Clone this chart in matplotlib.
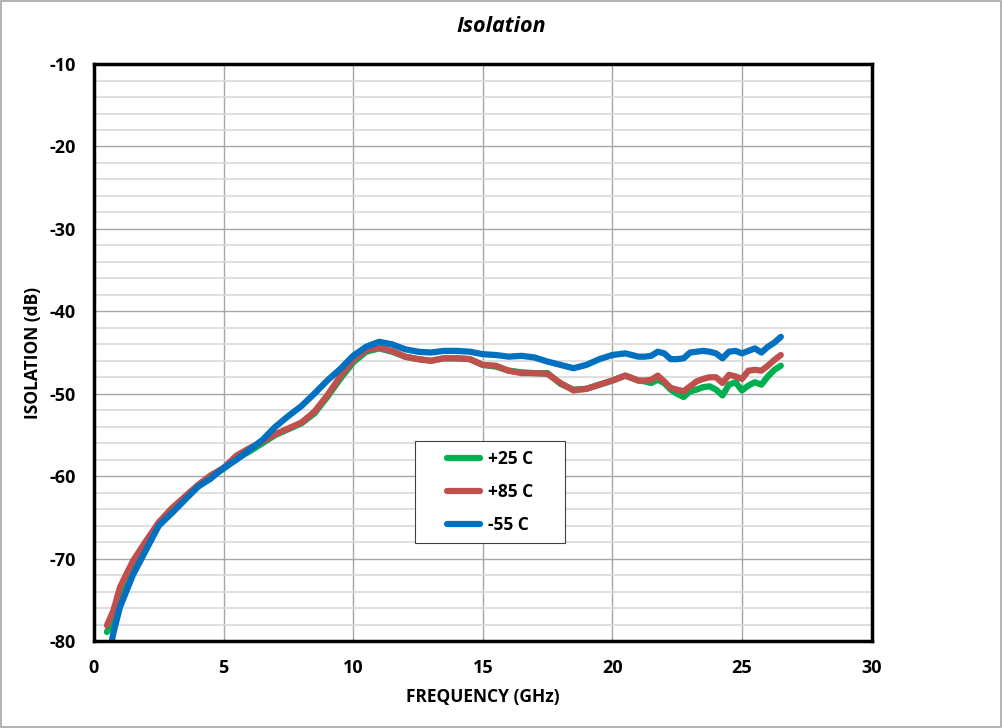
import matplotlib
matplotlib.use('Agg')
import matplotlib.pyplot as plt
from matplotlib.patches import Rectangle

plt.rcParams['font.family'] = ['Open Sans', 'DejaVu Sans']
plt.rcParams['axes.unicode_minus'] = False

# Frequency points (GHz)
freq = [0.5, 0.75, 1.0, 1.5, 2.0, 2.5, 3.0, 3.5, 4.0, 4.5, 5.0, 5.5, 6.0, 6.5,
        7.0, 7.5, 8.0, 8.5, 9.0, 9.5, 10.0, 10.5, 11.0, 11.5, 12.0, 12.5, 13.0,
        13.5, 14.0, 14.5, 15.0, 15.5, 16.0, 16.5, 17.0, 17.5, 18.0, 18.5, 19.0,
        19.5, 20.0, 20.5, 21.0, 21.25, 21.5, 21.75, 22.0, 22.25, 22.5, 22.75,
        23.0, 23.25, 23.5, 23.75, 24.0, 24.25, 24.5, 24.75, 25.0, 25.25, 25.5,
        25.75, 26.0, 26.25, 26.5]

iso_25 = [-78.9, -77.2, -74.5, -71.0, -68.3, -66.0, -64.2, -62.8, -61.3, -60.1,
          -59.1, -57.9, -57.0, -56.0, -55.0, -54.3, -53.6, -52.4, -50.4, -48.2,
          -46.2, -44.9, -44.5, -44.9, -45.5, -45.8, -46.0, -45.7, -45.7, -45.8,
          -46.5, -46.7, -47.2, -47.4, -47.5, -47.5, -48.8, -49.5, -49.4, -48.9,
          -48.4, -47.8, -48.4, -48.5, -48.7, -48.3, -48.7, -49.5, -50.0, -50.4,
          -49.7, -49.5, -49.2, -49.1, -49.5, -50.2, -48.9, -48.6, -49.6, -49.0,
          -48.6, -48.9, -47.9, -47.1, -46.6]

iso_85 = [-78.1, -76.3, -73.5, -70.3, -67.9, -65.6, -63.9, -62.5, -61.1, -59.9,
          -59.0, -57.5, -56.6, -55.8, -54.9, -54.2, -53.5, -52.2, -50.2, -47.9,
          -45.9, -44.7, -44.4, -44.8, -45.5, -45.8, -46.0, -45.7, -45.7, -45.8,
          -46.5, -46.6, -47.2, -47.5, -47.5, -47.6, -48.7, -49.6, -49.4, -48.9,
          -48.4, -47.8, -48.4, -48.4, -48.3, -47.8, -48.5, -49.3, -49.5, -49.7,
          -49.1, -48.5, -48.2, -48.0, -48.0, -48.7, -47.7, -47.9, -48.2, -47.2,
          -47.1, -47.2, -46.6, -45.9, -45.3]

iso_m55 = [-83.0, -79.0, -75.9, -72.0, -69.0, -66.0, -64.5, -62.9, -61.3, -60.3,
           -59.0, -58.0, -56.8, -55.6, -54.0, -52.7, -51.5, -50.0, -48.4, -47.0,
           -45.4, -44.3, -43.7, -44.0, -44.6, -44.9, -45.0, -44.8, -44.8, -44.9,
           -45.2, -45.3, -45.5, -45.4, -45.6, -46.1, -46.5, -46.9, -46.5, -45.8,
           -45.3, -45.1, -45.5, -45.5, -45.4, -44.9, -45.1, -45.8, -45.8, -45.7,
           -45.0, -44.9, -44.8, -44.9, -45.1, -45.7, -44.9, -44.8, -45.1, -44.8,
           -44.5, -45.0, -44.3, -43.8, -43.1]

fig = plt.figure(figsize=(10.02, 7.28), dpi=100)
ax = fig.add_axes([0.0938, 0.1195, 0.776, 0.7925])

# outer chart border
fig.patches.append(Rectangle((0.001, 0.001), 0.998, 0.998, transform=fig.transFigure,
                             fill=False, edgecolor='#a6a6a6', linewidth=1.2))

ax.plot(freq, iso_25, color='#00B050', linewidth=4.5, label='+25 C', solid_capstyle='round')
ax.plot(freq, iso_85, color='#C0504D', linewidth=4.5, label='+85 C', solid_capstyle='round')
ax.plot(freq, iso_m55, color='#0070C0', linewidth=4.5, label='-55 C', solid_capstyle='round')

ax.set_xlim(0, 30)
ax.set_ylim(-80, -10)
ax.set_xticks([0, 5, 10, 15, 20, 25, 30])
ax.set_yticks([-80, -70, -60, -50, -40, -30, -20, -10])
ax.set_yticks(range(-80, -9, 2), minor=True)
ax.grid(which='major', color='#a6a6a6', linewidth=1)
ax.grid(which='minor', axis='y', color='#d9d9d9', linewidth=1.2)
ax.set_axisbelow(True)
ax.tick_params(which='both', length=0, labelsize=13, pad=13)
for lbl in ax.get_xticklabels() + ax.get_yticklabels():
    lbl.set_fontweight('bold')
for sp in ax.spines.values():
    sp.set_linewidth(2.5)
    sp.set_color('black')

ax.set_xlabel('FREQUENCY (GHz)', fontsize=12.5, fontweight='bold', va='center')
ax.set_ylabel('ISOLATION (dB)', fontsize=12.5, fontweight='bold', va='center')
ax.xaxis.set_label_coords(0.5, -0.097)
ax.yaxis.set_label_coords(-0.0784, 0.5)
fig.text(0.5, 1 - 27 / 728, 'Isolation', ha='center', va='center',
         fontsize=15.5, fontweight='bold', fontstyle='italic')

# legend box
ax.add_patch(Rectangle((0.4126, 0.1698), 0.1928, 0.1768, transform=ax.transAxes,
                       facecolor='white', edgecolor='#404040', linewidth=0.8, zorder=4))
leg = ax.legend(loc='center', bbox_to_anchor=(0.509, 0.258), fontsize=12.5,
                frameon=False, handlelength=1.9, labelspacing=0.87, handletextpad=0.45)
leg.set_zorder(5)
for t in leg.get_texts():
    t.set_fontweight('bold')

fig.savefig('out.png', dpi=100)
